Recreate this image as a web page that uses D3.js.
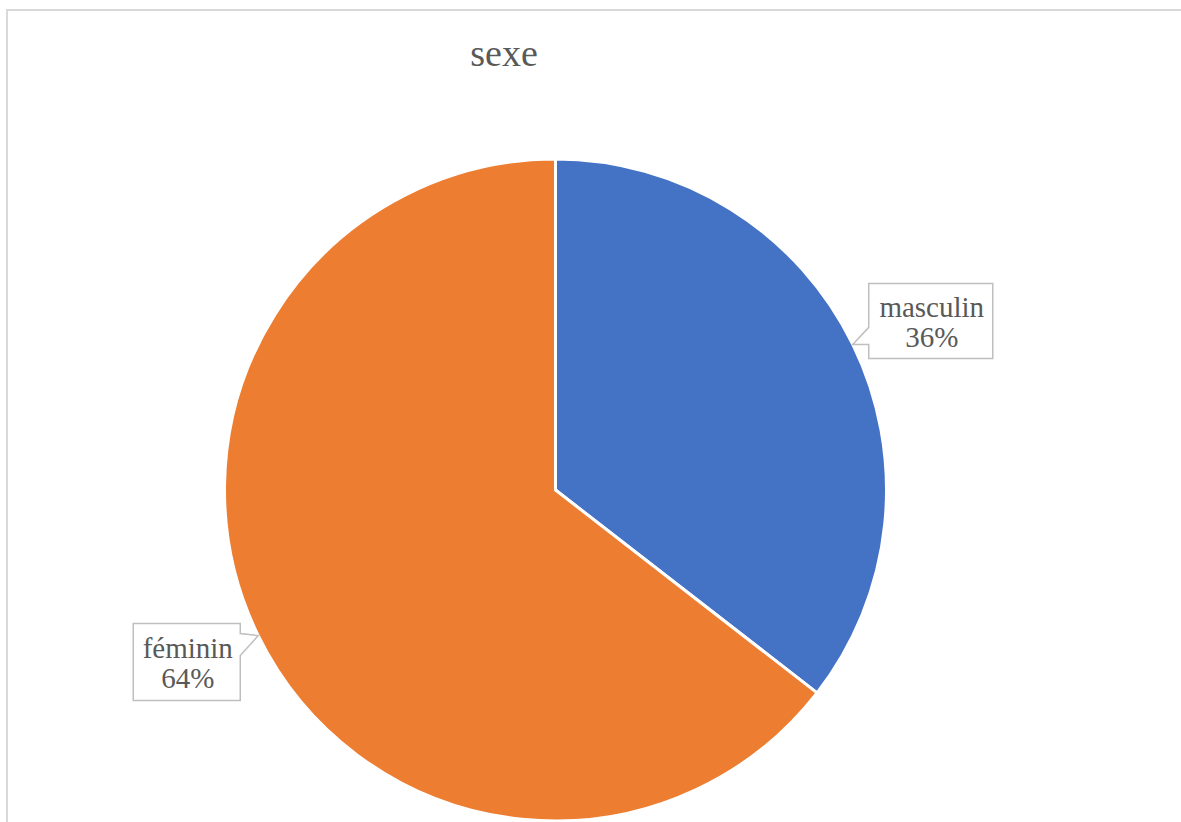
<!DOCTYPE html>
<html>
<head>
<meta charset="utf-8">
<script src="https://cdn.jsdelivr.net/npm/d3@7"></script>
<style>
  body { margin: 0; background: #fff; }
</style>
</head>
<body>
<script>
let width = 1181, height = 822
let categories = ['masculin', 'féminin']
// slice shares
let values = [35.5, 64.5]
// percentages as printed on the labels
let percentLabels = ['36%', '64%']
let colors = ['#4472C4', '#ED7D31']
let title = 'sexe'

let cx = 555.5, cy = 490, radius = 331
let serif = '"Liberation Serif", "Times New Roman", Tinos'

let svg = d3.select('body').append('svg')
    .attr('width', width).attr('height', height)

// chart area border (runs off the right and bottom edge)
svg.append('rect')
    .attr('x', 7).attr('y', 10)
    .attr('width', width + 20).attr('height', height + 20)
    .attr('fill', 'none')
    .attr('stroke', '#d9d9d9')
    .attr('stroke-width', 2)

svg.append('text')
    .attr('x', 504).attr('y', 66)
    .attr('text-anchor', 'middle')
    .style('font-family', serif)
    .style('font-size', '38px')
    .attr('fill', '#595959')
    .text(title)

let data = categories.map((c, i) => ({ name: c, value: values[i], color: colors[i], label: percentLabels[i] }))

let pie = d3.pie().sort(null).value(d => d.value)
let arc = d3.arc().innerRadius(0).outerRadius(radius)
let arcs = pie(data)

let g = svg.append('g').attr('transform', `translate(${cx},${cy})`)
g.selectAll('path')
    .data(arcs)
    .join('path')
    .attr('d', arc)
    .attr('fill', d => d.data.color)
    .attr('stroke', '#fff')
    .attr('stroke-width', 3)
    .attr('stroke-linejoin', 'round')

// callouts: tip sits on the outer edge at the slice's mid angle
let tipOf = d => {
    let a = (d.startAngle + d.endAngle) / 2
    return [cx + radius * Math.sin(a), cy - radius * Math.cos(a)]
}

arcs.forEach(d => {
    let [tx, ty] = tipOf(d)
    let path, textX, y0
    if (Math.sin((d.startAngle + d.endAngle) / 2) > 0) {
        // box to the right, pointer on its left edge
        let x0 = tx + 16, x1 = tx + 140
        y0 = ty - 61
        let y1 = ty + 14
        path = `M${x0},${y0}H${x1}V${y1}H${x0}V${ty}L${tx},${ty}L${x0},${ty - 17}Z`
        textX = (x0 + x1) / 2 + 1
    } else {
        // box to the left, pointer on its right edge
        let x1 = tx - 18, x0 = tx - 125
        y0 = ty - 12
        let y1 = ty + 65
        path = `M${x0},${y0}H${x1}V${ty - 2}L${tx},${ty}L${x1},${ty + 20}V${y1}H${x0}Z`
        textX = (x0 + x1) / 2 + 1
    }
    svg.append('path')
        .attr('d', path)
        .attr('fill', '#fff')
        .attr('stroke', '#bfbfbf')
        .attr('stroke-width', 1.5)
    let t = svg.append('text')
        .attr('text-anchor', 'middle')
        .style('font-family', serif)
        .style('font-size', '29px')
        .attr('fill', '#595959')
    t.append('tspan').attr('x', textX).attr('y', y0 + 34).text(d.data.name)
    t.append('tspan').attr('x', textX).attr('y', y0 + 64).text(d.data.label)
})
</script>
</body>
</html>
